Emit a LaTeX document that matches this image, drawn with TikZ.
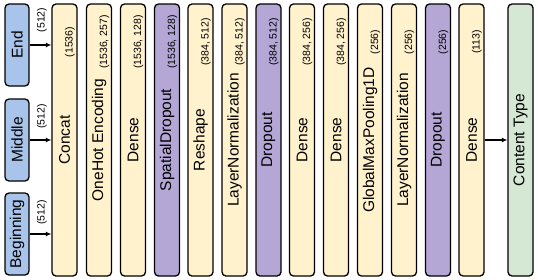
\documentclass[tikz,border=0pt]{standalone}
\usepackage{graphicx}
\usepackage{fontspec}
\setmainfont{Liberation Sans}
\usetikzlibrary{arrows.meta}

\definecolor{inblue}{HTML}{A9C4EB}
\definecolor{layeryellow}{HTML}{FFF2CC}
\definecolor{droppurple}{HTML}{B4A7D6}
\definecolor{outgreen}{HTML}{D5E8D4}

\begin{document}
\begin{tikzpicture}[x=1pt, y=-1pt,
        layer/.style={draw, rounded corners=4pt, line width=1.3pt, inner sep=0pt,
            minimum width=25pt, minimum height=272pt, fill=layeryellow,
            font=\fontsize{15.5}{18}\selectfont},
        drop/.style={layer, fill=droppurple},
        input/.style={layer, minimum width=24pt, minimum height=82pt, fill=inblue},
        output/.style={layer, fill=outgreen},
        dim/.style={rotate=90, inner sep=0pt, font=\fontsize{10.5}{12}\selectfont},
        flow/.style={-{Latex[length=5.5pt,width=5pt]}, line width=1.1pt}]
            \useasboundingbox (0,0) rectangle (538,279);

            % inputs
            \node[input] (end)    at (17,45)  {\rotatebox{90}{End}};
            \node[input] (middle) at (17,140) {\rotatebox{90}{Middle}};
            \node[input] (begin)  at (17,234) {\rotatebox{90}{Beginning}};

            % layers
            \node[layer] (concat)   at (64.5,140)  {\rotatebox{90}{Concat}};
            \node[layer] (onehot)   at (99,140)    {\rotatebox{90}{OneHot Encoding}};
            \node[layer] (dense1)   at (133,140)   {\rotatebox{90}{Dense}};
            \node[drop]  (spdrop)   at (167,140)   {\rotatebox{90}{SpatialDropout}};
            \node[layer] (reshape)  at (200.5,140) {\rotatebox{90}{Reshape}};
            \node[layer] (lnorm1)   at (234.5,140) {\rotatebox{90}{LayerNormalization}};
            \node[drop]  (drop1)    at (268.5,140) {\rotatebox{90}{Dropout}};
            \node[layer] (dense2)   at (302,140)   {\rotatebox{90}{Dense}};
            \node[layer] (dense3)   at (336,140)   {\rotatebox{90}{Dense}};
            \node[layer] (gmpool)   at (370,140)   {\rotatebox{90}{GlobalMaxPooling1D}};
            \node[layer] (lnorm2)   at (404,140)   {\rotatebox{90}{LayerNormalization}};
            \node[drop]  (drop2)    at (438,140)   {\rotatebox{90}{Dropout}};
            \node[layer] (dense4)   at (471.5,140) {\rotatebox{90}{Dense}};
            \node[output] (ctype)   at (520.5,140) {\rotatebox{90}{Content Type}};

            % shapes
            \node[dim] (sconcat)  at (70,42)    {(1536)};
            \node[dim] (sonehot)  at (104.5,42) {(1536, 257)};
            \node[dim] (sdense1)  at (138.5,42) {(1536, 128)};
            \node[dim] (sspdrop)  at (172.5,42) {(1536, 128)};
            \node[dim] (sreshape) at (206,42)   {(384, 512)};
            \node[dim] (slnorm1)  at (240,42)   {(384, 512)};
            \node[dim] (sdrop1)   at (274,42)   {(384, 512)};
            \node[dim] (sdense2)  at (307.5,42) {(384, 256)};
            \node[dim] (sdense3)  at (341.5,42) {(384, 256)};
            \node[dim] (sgmpool)  at (375.5,42) {(256)};
            \node[dim] (slnorm2)  at (409.5,42) {(256)};
            \node[dim] (sdrop2)   at (443.5,42) {(256)};
            \node[dim] (sdense4)  at (477,42)   {(113)};

            \node[dim] (send)    at (42,20)    {(512)};
            \node[dim] (smiddle) at (42,116.5) {(512)};
            \node[dim] (sbegin)  at (42,212.5) {(512)};

            \draw[flow] (end) -- (concat.west |- end);
            \draw[flow] (middle) -- (concat.west |- middle);
            \draw[flow] (begin) -- (concat.west |- begin);
            \draw[flow] (dense4) -- (ctype);
\end{tikzpicture}
\end{document}
